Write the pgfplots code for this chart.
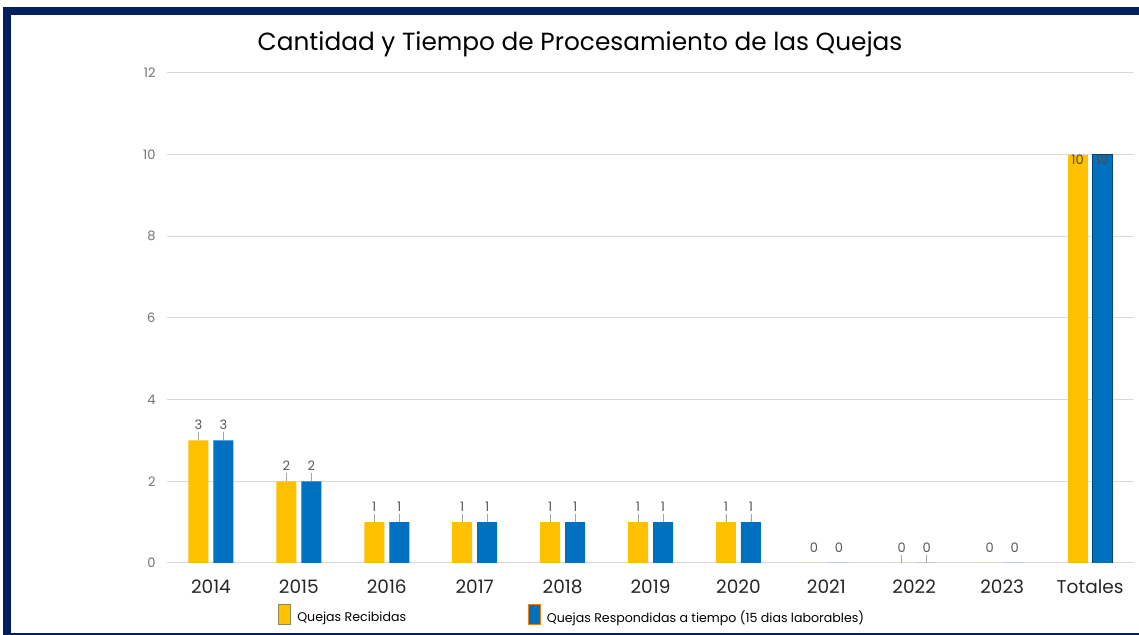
\documentclass[border=0pt]{standalone}
\usepackage{fontspec}
\setmainfont{Poppins}
\usepackage{pgfplots}
\pgfplotsset{compat=1.18}

\definecolor{amarillo}{HTML}{FFC000}
\definecolor{azul}{HTML}{0070C0}
\definecolor{marino}{HTML}{002060}
\definecolor{rejilla}{HTML}{D9D9D9}
\definecolor{etiq}{HTML}{595959}

\begin{document}
\begin{tikzpicture}[x=1bp,y=1bp]
  \fill[white] (0,0) rectangle (1139,635);
  \useasboundingbox (0,0) rectangle (1139,635);
  % marco azul marino
  \fill[marino] (3,620) rectangle (1139,628);
  \fill[marino] (3,0) rectangle (11,628);
  \fill[marino] (3,0) rectangle (1139,2);

  \node[font=\fontsize{24.8bp}{28bp}\selectfont, text=black] at (580,591)
    {Cantidad y Tiempo de Procesamiento de las Quejas};

  \begin{axis}[
    at={(167bp,72bp)}, anchor=south west, scale only axis,
    width=967bp, height=490bp,
    ybar, bar width=20bp,
    xmin=-0.5, xmax=10.5, ymin=0, ymax=12,
    xtick={0,...,10},
    xticklabels={2014,2015,2016,2017,2018,2019,2020,2021,2022,2023,Totales},
    ytick={0,2,...,12},
    ymajorgrids, grid style={rejilla, line width=1pt},
    axis line style={draw=none},
    major tick length=0pt,
    /pgf/number format/assume math mode=true,
    x tick label style={font=\fontsize{18.5bp}{20bp}\selectfont, text=black!85, yshift=-13bp},
    y tick label style={font=\fontsize{13bp}{14bp}\selectfont, text=black!55, xshift=-8bp},
    nodes near coords,
    every node near coord/.append style={font=\fontsize{13bp}{15bp}\selectfont, text=etiq, anchor=south, yshift=7bp},
    error bars/y dir=plus, error bars/y explicit,
    error bars/error mark=none,
    error bars/error bar style={black!35, line width=0.7pt},
    legend columns=2,
    legend style={at={(axis description cs:0.112,-0.079)}, anchor=north west,
      draw=none, fill=none, font=\fontsize{12.6bp}{14bp}\selectfont,
      /tikz/every even column/.append style={column sep=120bp}},
    legend image code/.code={\draw[#1] (0bp,-7bp) rectangle (12bp,13bp); \path (16bp,0bp);},
  ]
  \addlegendimage{fill=amarillo, draw=olive!40!gray, line width=0.8pt}
  \addlegendentry{Quejas Recibidas}
  \addlegendimage{fill=azul, draw=orange!70!brown, line width=0.8pt}
  \addlegendentry{Quejas Respondidas a tiempo (15 dias laborables)}

  % años
  \addplot[fill=amarillo, draw=none, bar shift=-12.5bp, forget plot] coordinates {
    (0,3) +- (0,0.2) (1,2) +- (0,0.2) (2,1) +- (0,0.2) (3,1) +- (0,0.2)
    (4,1) +- (0,0.2) (5,1) +- (0,0.2) (6,1) +- (0,0.2)
    (7,0) +- (0,0) (8,0) +- (0,0.2) (9,0) +- (0,0)};
  \addplot[fill=azul, draw=none, bar shift=12.5bp, forget plot] coordinates {
    (0,3) +- (0,0.2) (1,2) +- (0,0.2) (2,1) +- (0,0.2) (3,1) +- (0,0.2)
    (4,1) +- (0,0.2) (5,1) +- (0,0.2) (6,1) +- (0,0.2)
    (7,0) +- (0,0) (8,0) +- (0,0.2) (9,0) +- (0,0)};
  % totales
  \addplot[fill=amarillo, draw=none, bar shift=-12.5bp, forget plot,
    every node near coord/.append style={anchor=north, yshift=-4bp, text=black!70}]
    coordinates {(10,10) +- (0,0)};
  \addplot[fill=azul, draw=azul!60!black, bar shift=12.5bp, forget plot,
    every node near coord/.append style={anchor=north, yshift=-4bp, text=black!70}]
    coordinates {(10,10) +- (0,0)};
  \end{axis}
\end{tikzpicture}
\end{document}
